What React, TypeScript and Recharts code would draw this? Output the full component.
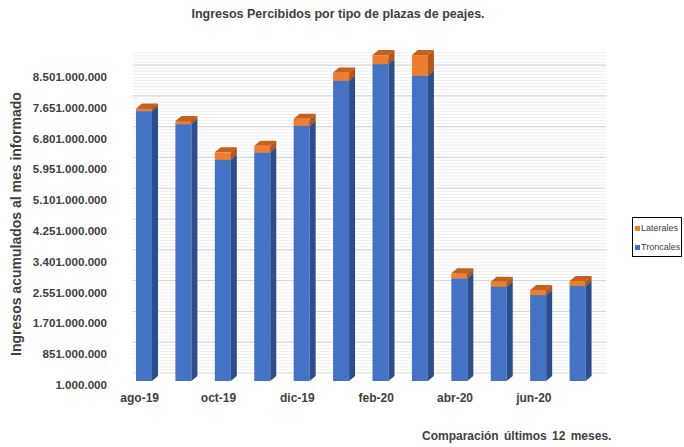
import { BarChart, Bar, XAxis, YAxis, ReferenceLine } from "recharts";

const MONTHS = [
  "ago-19", "sep-19", "oct-19", "nov-19", "dic-19", "ene-20",
  "feb-20", "mar-20", "abr-20", "may-20", "jun-20", "jul-20",
];

const TRONCALES = [
  7451000000, 7092000000, 6107000000, 6312000000, 7046000000, 8288000000,
  8748000000, 8425000000, 2834000000, 2602000000, 2373000000, 2622000000,
];

const LATERALES = [
  75000000, 83000000, 205000000, 182000000, 193000000, 231000000,
  249000000, 572000000, 140000000, 135000000, 138000000, 140000000,
];

const Y_TICKS = [
  1000000, 851000000, 1701000000, 2551000000, 3401000000, 4251000000,
  5101000000, 5951000000, 6801000000, 7651000000, 8501000000,
];

const Y_MIN = 1000000;
const Y_MAX = 9000000000;
const MINOR_STEP = 85000000;
const WALL_TOP = 8900000000;

const SERIES = [
  { key: "Laterales", color: "#ED7D31", side: "#B35618", top: "#C4611C" },
  { key: "Troncales", color: "#4472C4", side: "#2D4E8C", top: "#3A62AA" },
];

const FONT = "'Liberation Sans', Arial, sans-serif";
const TEXT = "#404040";

const data = MONTHS.map((month, i) => ({
  month,
  Troncales: TRONCALES[i],
  Laterales: LATERALES[i],
}));

const minorTicks: number[] = [];
for (let v = Y_MIN + MINOR_STEP; v <= WALL_TOP; v += MINOR_STEP) minorTicks.push(v);

const fmt = (v: number) => String(v).replace(/\B(?=(\d{3})+(?!\d))/g, ".");

const DEPTH_X = 6;
const DEPTH_Y = 5;

const Bar3D = (props: any) => {
  const { x, y, width, height, front, side, top } = props;
  if (!height || height <= 0) return null;
  const r = x + width;
  return (
    <g>
      <rect x={x} y={y} width={width} height={height} fill={front} />
      <polygon
        points={`${r},${y} ${r + DEPTH_X},${y - DEPTH_Y} ${r + DEPTH_X},${y + height - DEPTH_Y} ${r},${y + height}`}
        fill={side}
      />
      <polygon
        points={`${x},${y} ${x + DEPTH_X},${y - DEPTH_Y} ${r + DEPTH_X},${y - DEPTH_Y} ${r},${y}`}
        fill={top}
      />
    </g>
  );
};

const YTick = ({ x, y, payload }: any) => (
  <text x={x} y={y} dy={8} textAnchor="end" fill={TEXT} fontSize={11.6} fontWeight="bold" fontFamily={FONT}>
    {fmt(payload.value)}
  </text>
);

const XTick = ({ x, y, payload }: any) => (
  <text x={x - 4} y={y} dy={21} textAnchor="middle" fill={TEXT} fontSize={12} fontWeight="bold" fontFamily={FONT}>
    {payload.value}
  </text>
);

export default function App() {
  const troncales = SERIES[1];
  const laterales = SERIES[0];
  return (
    <div style={{ position: "absolute", left: 0, top: 0, width: 684, height: 447, background: "#fff", fontFamily: FONT }}>
      {/* back wall grid, offset up-right like the excel 3d depth */}
      <div style={{ position: "absolute", left: 0, top: 0 }}>
        <BarChart width={684} height={447} data={data} margin={{ top: 47, right: 78, bottom: 74, left: 133 }}>
          <XAxis dataKey="month" hide />
          <YAxis hide domain={[Y_MIN, Y_MAX]} type="number" />
          <Bar dataKey="Troncales" fill="transparent" fillOpacity={0} isAnimationActive={false} />
          {minorTicks.map((v) => (
            <ReferenceLine key={`m${v}`} y={v} stroke="#EFEFEF" strokeWidth={1} />
          ))}
          {Y_TICKS.map((v) => (
            <ReferenceLine key={`M${v}`} y={v} stroke="#D9D9D9" strokeWidth={1.2} />
          ))}
        </BarChart>
      </div>

      <div style={{ position: "absolute", left: 0, top: 0 }}>
        <BarChart width={684} height={447} data={data} margin={{ top: 55, right: 87, bottom: 36, left: 0 }} barSize={16}>
          <XAxis
            dataKey="month"
            interval={1}
            height={30}
            axisLine={false}
            tickLine={false}
            tickSize={0}
            tickMargin={0}
            tick={<XTick />}
          />
          <YAxis
            type="number"
            domain={[Y_MIN, Y_MAX]}
            ticks={Y_TICKS}
            width={124}
            axisLine={false}
            tickLine={false}
            tickSize={0}
            tickMargin={17}
            tick={<YTick />}
          />
          <Bar
            dataKey="Troncales"
            stackId="a"
            fill={troncales.color}
            isAnimationActive={false}
            shape={(p: any) => <Bar3D {...p} front={troncales.color} side={troncales.side} top={troncales.top} />}
          />
          <Bar
            dataKey="Laterales"
            stackId="a"
            fill={laterales.color}
            isAnimationActive={false}
            shape={(p: any) => <Bar3D {...p} front={laterales.color} side={laterales.side} top={laterales.top} />}
          />
        </BarChart>
      </div>

      <div style={{ position: "absolute", left: 338, top: 7, transform: "translateX(-50%)", whiteSpace: "nowrap", fontSize: 12.5, fontWeight: "bold", color: TEXT }}>
        Ingresos Percibidos por tipo de plazas de peajes.
      </div>

      <div
        style={{
          position: "absolute",
          left: 16,
          top: 224,
          transform: "translate(-50%, -50%) rotate(-90deg)",
          whiteSpace: "nowrap",
          fontSize: 14,
          fontWeight: "bold",
          color: TEXT,
        }}
      >
        Ingresos acumulados al mes informado
      </div>

      <div style={{ position: "absolute", left: 422, top: 429, fontSize: 12, fontWeight: "bold", color: TEXT, whiteSpace: "nowrap", wordSpacing: 2 }}>
        Comparación últimos 12 meses.
      </div>

      <div
        style={{
          position: "absolute",
          left: 632,
          top: 217,
          width: 48,
          height: 38,
          border: "1px solid #000",
          fontSize: 9,
          color: TEXT,
          boxSizing: "content-box",
        }}
      >
        {SERIES.map((s, i) => (
          <div key={s.key} style={{ position: "absolute", left: 2, top: 5 + i * 19, display: "flex", alignItems: "center", whiteSpace: "nowrap" }}>
            <span style={{ width: 5, height: 5, background: s.color, marginRight: 1 }} />
            {s.key}
          </div>
        ))}
      </div>
    </div>
  );
}
